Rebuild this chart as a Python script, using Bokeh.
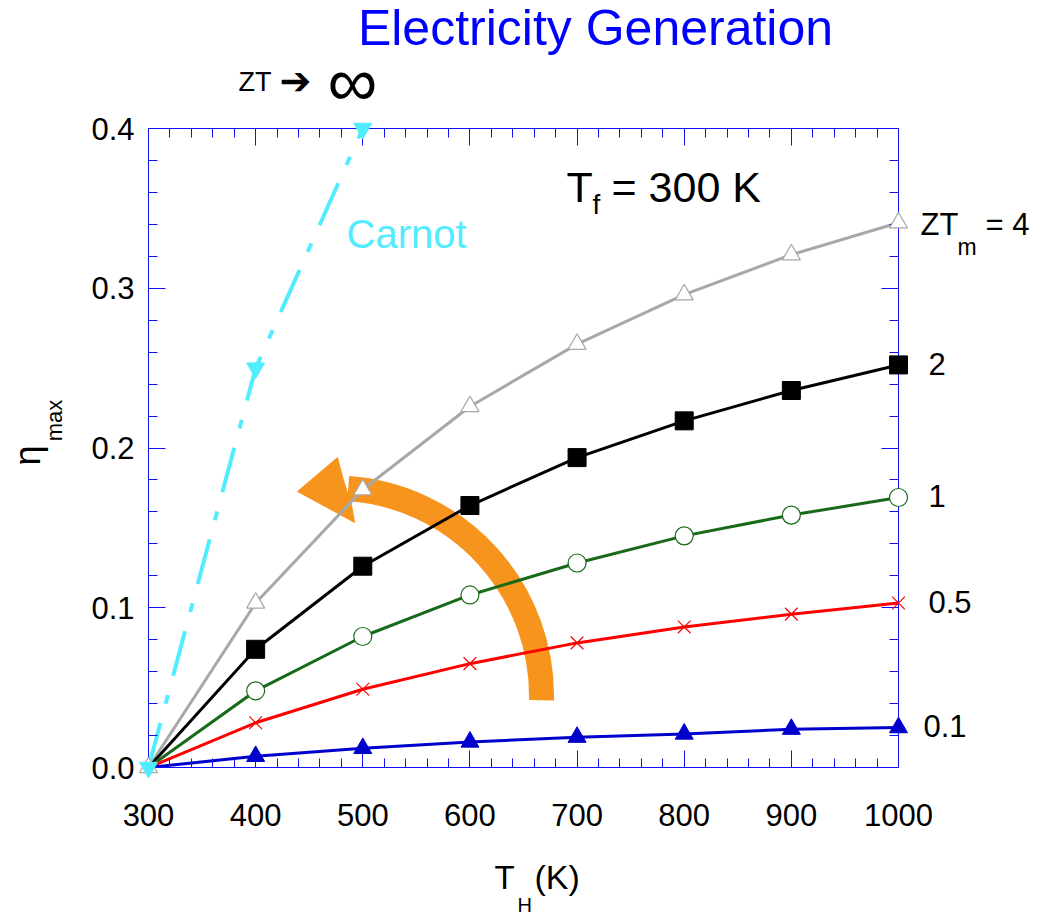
import math
from bokeh.plotting import figure
from bokeh.models import (Range1d, LinearAxis, SingleIntervalTicker,
                          PrintfTickFormatter, CustomJSTickFormatter)
from bokeh.core.properties import value
from bokeh.embed import file_html
from bokeh.resources import INLINE

# ---------------- data ----------------
T_H = [300, 400, 500, 600, 700, 800, 900, 1000]
eta_zt4 = [0.0, 0.103, 0.174, 0.226, 0.265, 0.296, 0.321, 0.341]
eta_zt2 = [0.0, 0.074, 0.126, 0.164, 0.194, 0.217, 0.236, 0.252]
eta_zt1 = [0.0, 0.048, 0.082, 0.108, 0.128, 0.145, 0.158, 0.169]
eta_zt05 = [0.0, 0.028, 0.049, 0.065, 0.078, 0.088, 0.096, 0.103]
eta_zt01 = [0.0, 0.007, 0.012, 0.016, 0.019, 0.021, 0.024, 0.025]
carnot_T = [300, 400, 500]
carnot_eta = [0.0, 0.25, 0.40]
series_labels = ["4", "2", "1", "0.5", "0.1"]

# decorative curved arrow (annotation geometry, data units)
arrow_center = (472.7, 0.0448)
arrow_head_x = [439.1, 476.4, 482.0, 489.5, 492.3]
arrow_head_y = [0.1728, 0.1940, 0.1797, 0.1640, 0.1534]

# ---------------- styling ----------------
FONT = "Liberation Sans"
AX = "#1010ff"
GRAY = "#a8a8a8"
GREEN = "#186a18"
RED = "#ff0000"
BLUE = "#0000cc"
CYAN = "#52ecff"
ORANGE = "#f7941d"

W, H = 1050, 918
FL, FR, FT, FB = 148, 898, 128, 767   # frame edges in canvas px
X0, X1, Y0, Y1 = 300, 1000, 0.0, 0.4

p = figure(width=W, height=H, output_backend="svg", toolbar_location=None,
           x_range=Range1d(X0, X1), y_range=Range1d(Y0, Y1),
           x_axis_type=None, y_axis_type=None,
           min_border_left=FL, min_border_right=W - FR,
           min_border_top=FT, min_border_bottom=H - FB)
p.outline_line_color = None
p.background_fill_color = "white"
p.border_fill_color = "white"


def make_axis(interval, fmt, show):
    if show:
        formatter = PrintfTickFormatter(format=fmt)
    else:
        formatter = CustomJSTickFormatter(code="return ''")
    ax = LinearAxis(ticker=SingleIntervalTicker(interval=interval, num_minor_ticks=5),
                    formatter=formatter)
    ax.axis_line_color = AX
    ax.axis_line_width = 1
    ax.major_tick_line_color = AX
    ax.minor_tick_line_color = AX
    ax.major_tick_in = 17
    ax.major_tick_out = 0
    ax.minor_tick_in = 9
    ax.minor_tick_out = 0
    ax.major_label_text_font = FONT
    ax.major_label_text_color = "black"
    ax.major_label_text_font_size = "31px"
    if not show:
        ax.major_label_standoff = 0
    return ax


xb = make_axis(100, "%d", True)
xb.major_label_standoff = 36
yl = make_axis(0.1, "%.1f", True)
yl.major_label_standoff = 14
xt = make_axis(100, "%d", False)
yr = make_axis(0.1, "%.1f", False)
p.add_layout(xb, "below")
p.add_layout(yl, "left")
p.add_layout(xt, "above")
p.add_layout(yr, "right")

# ---------------- orange curved arrow ----------------
p.arc(x=[arrow_center[0]], y=[arrow_center[1]], radius=208, radius_units="screen",
      start_angle=-0.021, end_angle=1.50, line_color=ORANGE, line_width=25,
      line_cap="butt", level="underlay")
p.patch(x=arrow_head_x, y=arrow_head_y, fill_color=ORANGE, line_color=ORANGE,
        level="underlay")

# ---------------- curves ----------------
p.line(T_H, eta_zt4, line_color=GRAY, line_width=3)
p.line(T_H, eta_zt2, line_color="black", line_width=3)
p.line(T_H, eta_zt1, line_color=GREEN, line_width=3)
p.line(T_H, eta_zt05, line_color=RED, line_width=3)
p.line(T_H, eta_zt01, line_color=BLUE, line_width=3)
p.line(carnot_T, carnot_eta, line_color=CYAN, line_width=4, line_dash="46 20 9 20")

# markers (overlay level so that markers on the frame edge are not clipped)
p.scatter(T_H, eta_zt4, marker="triangle", size=18, fill_color="white",
          line_color=GRAY, line_width=1.2, level="overlay")
p.scatter(T_H[1:], eta_zt2[1:], marker="square", size=18, fill_color="black",
          line_color="black", level="overlay")
p.scatter(T_H[1:], eta_zt1[1:], marker="circle", size=18, fill_color="white",
          line_color=GREEN, line_width=1.2, level="overlay")
p.scatter(T_H[1:], eta_zt05[1:], marker="x", size=18, line_color=RED,
          line_width=1.2, level="overlay")
p.scatter(T_H[1:], eta_zt01[1:], marker="triangle", size=18, fill_color=BLUE,
          line_color=BLUE, level="overlay")
p.scatter(carnot_T, carnot_eta, marker="inverted_triangle", size=18,
          fill_color=CYAN, line_color=CYAN, level="overlay")


# ---------------- texts ----------------
def px_to_data(wx, wy):
    return (X0 + (wx - FL) * (X1 - X0) / (FR - FL),
            Y1 - (wy - FT) * (Y1 - Y0) / (FB - FT))


def txt(text, wx, wy, size, color="black", align="left", angle=0.0, font=FONT,
        style="normal"):
    """(wx, wy): pixel position of the text baseline (alphabetic)."""
    shift = 0.39 * size          # compensate the renderer's baseline placement
    wx -= shift * math.sin(angle)
    wy -= shift * math.cos(angle)
    x, y = px_to_data(wx, wy)
    p.text(x=[x], y=[y], text=[text], text_font=value(font),
           text_font_size=value(f"{size}px"), text_color=color,
           text_font_style=style, text_align=align, text_baseline="alphabetic",
           angle=angle, level="overlay")


def end_label(text, yval, dx, dy, size=31):
    # dx, dy: pixel offsets (right, down) from the series' last point
    wy = FB - (yval - Y0) * (FB - FT) / (Y1 - Y0) + dy
    txt(text, FR + dx, wy, size)


# title
txt("Electricity Generation", 595, 47, 50, color="#0000ff", align="center")
# ZT -> infinity
txt("ZT", 238, 92, 27)
txt("\u2794", 279, 95, 38, font="DejaVu Sans")
txt("\u221e", 352, 109, 70, align="center")
# T_f = 300 K
txt("T", 566, 203, 43)
txt("f", 592, 215, 28)
txt("= 300 K", 611, 203, 43)
# Carnot
txt("Carnot", 346, 249, 40, color=CYAN)
# axis titles
txt("T", 494, 890, 33)
txt("H", 517, 912, 20)
txt("(K)", 534, 890, 34)
txt("\u03b7", 41, 455, 36, align="center", angle=math.pi / 2)
txt("max", 63, 420, 22, align="center", angle=math.pi / 2)

# right-hand series labels
end_label("ZT", eta_zt4[-1], 22, 14)
end_label("m", eta_zt4[-1], 59, 33, size=23)
end_label("= 4", eta_zt4[-1], 87, 14)
end_label(series_labels[1], eta_zt2[-1], 30, 11)
end_label(series_labels[2], eta_zt1[-1], 30, 11)
end_label(series_labels[3], eta_zt05[-1], 30, 11)
end_label(series_labels[4], eta_zt01[-1], 25, 11)

open("out.html", "w").write(file_html(p, INLINE))
